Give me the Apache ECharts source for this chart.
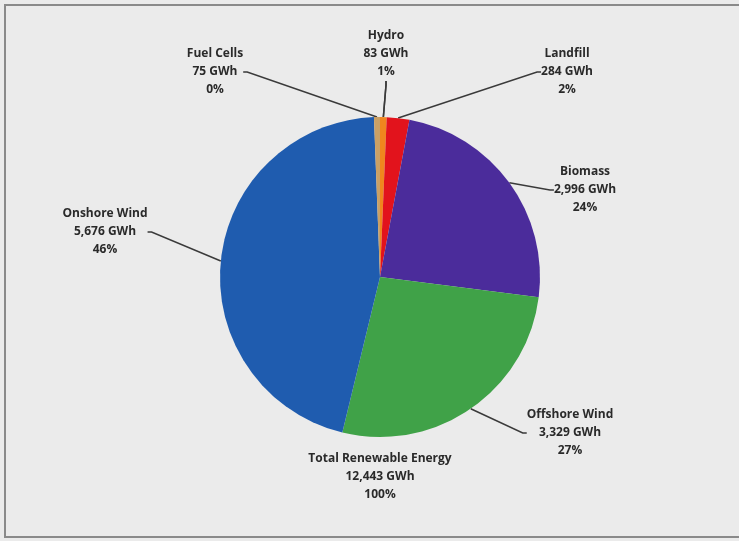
<!DOCTYPE html>
<html>
<head>
<meta charset="utf-8">
<script src="https://cdn.jsdelivr.net/npm/echarts@6/dist/echarts.min.js"></script>
<style>
  html, body { margin: 0; padding: 0; background: #f2f2f2; }
  #chart { width: 739px; height: 541px; }
</style>
</head>
<body>
<div id="chart"></div>
<script>
// 数据
const sources = ['Hydro', 'Landfill', 'Biomass', 'Offshore Wind', 'Onshore Wind', 'Fuel Cells'];
const gwh = [83, 284, 2996, 3329, 5676, 75];
const shares = [1, 2, 24, 27, 46, 0];
const colors = ['#f0861e', '#e2131c', '#4b2c9b', '#40a248', '#1f5caf', '#c9a066'];
const totalName = 'Total Renewable Energy';
const totalGwh = 12443;
const totalShare = 100;

// 标签位置（文字中心）
const labelPos = [
  [386, 54], [567, 72], [585, 190], [570, 433], [105, 232], [215, 72]
];

const fmt = n => n.toLocaleString('en-US');
const lineColor = '#3a3a3a';

const chart = echarts.init(document.getElementById('chart'));

const option = {
  backgroundColor: '#ebebeb',
  animation: false,
  graphic: [
    {
      id: 'frame',
      type: 'rect',
      shape: { x: 5, y: 5, width: 740, height: 532 },
      style: { fill: 'none', stroke: '#8a8a8a', lineWidth: 2 }
    },
    {
      id: 'total',
      type: 'text',
      x: 380,
      y: 450,
      style: {
        text: totalName + '\n' + fmt(totalGwh) + ' GWh\n' + totalShare + '%',
        fontFamily: 'Open Sans',
        fontWeight: 'bold',
        fontSize: 12,
        lineHeight: 18,
        fill: '#2a2a2a',
        align: 'center',
        verticalAlign: 'top'
      }
    }
  ],
  series: [
    {
      type: 'pie',
      center: [380, 277],
      radius: 160,
      startAngle: 90,
      clockwise: true,
      avoidLabelOverlap: false,
      data: sources.map((name, i) => ({
        name: name,
        value: gwh[i],
        itemStyle: { color: colors[i] }
      })),
      label: {
        show: true,
        position: 'outside',
        formatter: p => p.name + '\n' + fmt(gwh[p.dataIndex]) + ' GWh\n' + shares[p.dataIndex] + '%',
        fontFamily: 'Open Sans',
        fontWeight: 'bold',
        fontSize: 12,
        lineHeight: 18,
        color: '#2a2a2a',
        align: 'center'
      },
      labelLine: {
        show: true,
        length: 10,
        length2: 4,
        lineStyle: { color: lineColor, width: 1.5 }
      },
      labelLayout: p => ({
        x: labelPos[p.dataIndex][0],
        y: labelPos[p.dataIndex][1],
        align: 'center',
        verticalAlign: 'middle'
      })
    }
  ]
};

chart.setOption(option);

// Hydro 的引导线不显示：渲染完后取 ECharts 算出的点再画一次
let guideDone = false;
function addHydroGuide() {
  if (guideDone) return;
  const hydroLine = chart.getZr().storage.getDisplayList(true).find(el =>
    el.shape && el.shape.points &&
    Math.abs(el.shape.points[el.shape.points.length - 1][0] - labelPos[0][0]) < 3
  );
  if (!hydroLine) return;
  guideDone = true;
  chart.setOption({
    graphic: [{
      id: 'hydro-guide',
      type: 'polyline',
      z: 100,
      shape: { points: hydroLine.shape.points.map(p => [p[0], p[1]]) },
      style: { stroke: lineColor, lineWidth: 1.5, fill: null }
    }]
  });
}
chart.on('finished', addHydroGuide);
setTimeout(addHydroGuide, 50);

window.addEventListener('resize', () => chart.resize());
</script>
</body>
</html>
